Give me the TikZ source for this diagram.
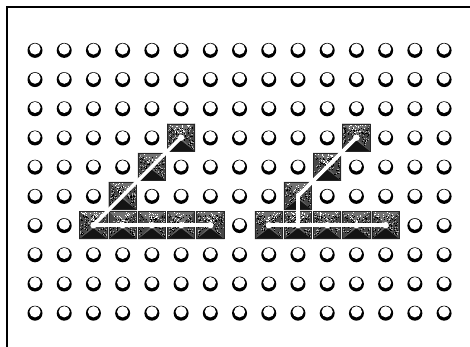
\documentclass[tikz,border=0pt]{standalone}
\tikzset{
  framing/.style={draw=black,line width=2pt},
  wire/.style={draw=white,line width=3.6pt,line join=round,line cap=round},
  pyrbox/.style={inner sep=0pt,minimum size=28pt,draw=none,fill=black!60},
  hub/.style={fill=white}
}
\pgfmathsetseed{4711}
\newcommand{\peg}[2]{%
  \fill[black] (#1,#2+.4) circle (7.5);
  \fill[white] (#1,#2-1) circle (5.6);
}
\newcommand{\pyramid}[3]{% name, col, row
  \pgfmathsetmacro{\px}{35+29.22*#2}
  \pgfmathsetmacro{\py}{50+29.2*#3}
  \node[pyrbox] (#1) at (\px,\py) {};
  \fill[black!55] (\px-14,\py-14) -- (\px+14,\py-14) -- (\px,\py) -- cycle;
  \fill[black!72] (\px-14,\py-14) -- (\px,\py) -- (\px-14,\py+14) -- cycle;
  \fill[black!72] (\px+14,\py-14) -- (\px,\py) -- (\px+14,\py+14) -- cycle;
  \foreach \k in {1,...,110}{
    \pgfmathsetmacro{\ux}{13.5*rand}
    \pgfmathsetmacro{\uy}{13.5*rand}
    \pgfmathparse{\uy>abs(\ux)-1 ? 0 : (-\uy>abs(\ux) ? 1 : 2)}
    \ifcase\pgfmathresult\relax\or
      \fill[white] (\px+\ux-.5,\py+\uy-.5) rectangle ++(1,1);
      \fill[black] (\px+.8*\ux-.4,\py+.8*\uy+.8) rectangle ++(.8,.8);
    \or
      \fill[white!70!black] (\px+\ux-.4,\py+\uy-.4) rectangle ++(.8,.8);
      \fill[black] (\px+.9*\ux-.4,\py+.9*\uy+1) rectangle ++(.8,.8);
    \fi
  }
  \fill[black!92] (\px-14,\py+14) -- (\px+14,\py+14) -- (\px,\py+3) -- cycle;
  \draw[black!85,line width=.8pt] (\px-13.6,\py-13.6) rectangle (\px+13.6,\py+13.6);
}
\begin{document}
\begin{tikzpicture}[x=1pt,y=-1pt]
\useasboundingbox (0,0) rectangle (470,347);
\coordinate (fa) at (6.5,347);
\coordinate (fb) at (6.5,7.5);
\coordinate (fc) at (470,7.5);
\draw[framing] (fa) -- (fb) -- (fc);
\foreach \c in {0,...,14}{
  \foreach \r in {0,...,9}{
    \pgfmathsetmacro{\qx}{35+29.22*\c}
    \pgfmathsetmacro{\qy}{50+29.2*\r}
    \peg{\qx}{\qy}
  }
}
% left figure
\pyramid{la}{2}{6}\pyramid{lb}{3}{6}\pyramid{lc}{4}{6}\pyramid{ld}{5}{6}\pyramid{le}{6}{6}
\pyramid{lf}{3}{5}\pyramid{lg}{4}{4}\pyramid{lh}{5}{3}
% right figure
\pyramid{ra}{8}{6}\pyramid{rb}{9}{6}\pyramid{rc}{10}{6}\pyramid{rd}{11}{6}\pyramid{re}{12}{6}
\pyramid{rf}{9}{5}\pyramid{rg}{10}{4}\pyramid{rh}{11}{3}
% connectors
\draw[wire] (la.center) -- (le.center);
\draw[wire] (la.center) -- (lh.center);
\draw[wire] (ra.center) -- (re.center);
\draw[wire] (rb.center) -- (rf.center) -- (rh.center);
\foreach \n in {la,lb,lc,ld,le,ra,rb,rc,rd,re,lh,rh}{
  \fill[hub] (\n.center) circle (3.2);
}
\end{tikzpicture}
\end{document}
